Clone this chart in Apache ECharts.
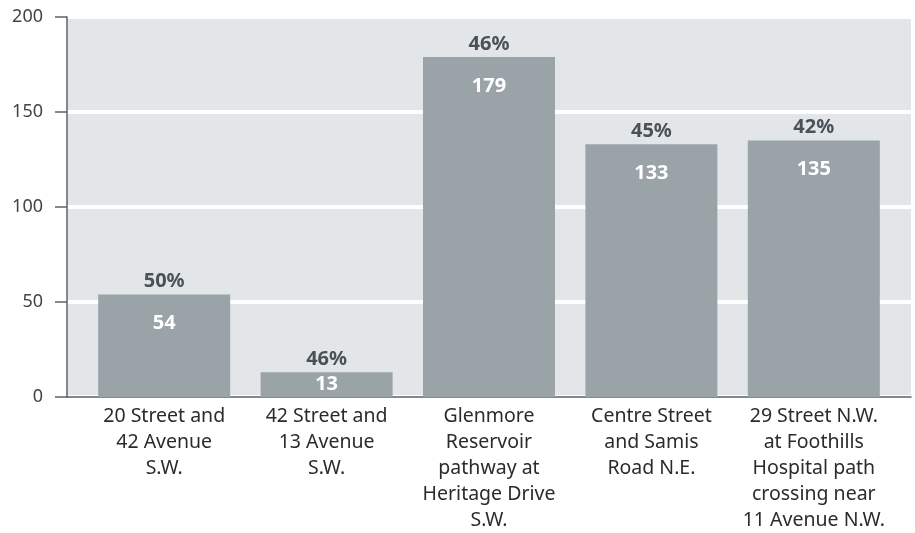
<!DOCTYPE html>
<html><head><meta charset="utf-8">
<script src="https://cdn.jsdelivr.net/npm/echarts@6/dist/echarts.min.js"></script>
<style>html,body{margin:0;padding:0;background:#fff}#c{width:915px;height:533px}</style>
</head><body><div id="c"></div>
<script>
const categories = [
  "20 Street and\n42 Avenue\nS.W.",
  "42 Street and\n13 Avenue\nS.W.",
  "Glenmore\nReservoir\npathway at\nHeritage Drive\nS.W.",
  "Centre Street\nand Samis\nRoad N.E.",
  "29 Street N.W.\nat Foothills\nHospital path\ncrossing near\n11 Avenue N.W."
];
const counts = [54, 13, 179, 133, 135];
const percents = [50, 46, 46, 45, 42];
const yTicks = [0, 50, 100, 150, 200];

const FONT = "Noto Sans";
const chart = echarts.init(document.getElementById('c'), null, {renderer: 'canvas'});
const valueData = counts.map(v => v < 30
  ? {value: v, label: {position: 'inside', distance: 0}}
  : v);
chart.setOption({
  animation: false,
  textStyle: {fontFamily: FONT},
  grid: [
    {left: 67, right: 4, top: 17, bottom: 136, show: true, backgroundColor: '#e3e6e8', borderWidth: 0,
     containLabel: false, outerBoundsMode: 'none'},
    {left: 83, right: 20, top: 17, bottom: 136, containLabel: false, outerBoundsMode: 'none'}
  ],
  xAxis: [
    {gridIndex: 0, type: 'value', min: 0, max: 1, axisLine: {show: true, lineStyle: {color: '#5d6368', width: 1.5}},
     axisTick: {show: false}, axisLabel: {show: false}, splitLine: {show: false}},
    {gridIndex: 1, type: 'category', data: categories, axisLine: {show: false}, axisTick: {show: false},
     axisLabel: {interval: 0, margin: 6, fontSize: 19.5, lineHeight: 26, color: '#2b2b2b', fontFamily: FONT, align: 'center'}}
  ],
  yAxis: [
    {gridIndex: 0, type: 'value', min: yTicks[0], max: yTicks[yTicks.length-1], interval: 50,
     axisLine: {show: true, lineStyle: {color: '#5d6368', width: 1.5}},
     axisTick: {show: true, length: 12, lineStyle: {color: '#5d6368', width: 1.5}},
     axisLabel: {margin: 24, fontSize: 18, color: '#444', fontFamily: FONT},
     splitLine: {show: true, lineStyle: {color: '#ffffff', width: 4}}},
    {gridIndex: 1, type: 'value', min: 0, max: 200, show: false, splitLine: {show: false}}
  ],
  series: [
    {type: 'bar', xAxisIndex: 1, yAxisIndex: 1, data: valueData, barWidth: 132,
     itemStyle: {color: '#99a3a8'},
     label: {show: true, position: 'insideTop', distance: 19, color: '#fff', fontWeight: 'bold', fontSize: 20, fontFamily: FONT}},
    {type: 'bar', xAxisIndex: 1, yAxisIndex: 1, data: counts, barWidth: 132, barGap: '-100%',
     itemStyle: {color: 'rgba(0,0,0,0)'}, silent: true,
     label: {show: true, position: 'top', distance: 3, color: '#4a5157', fontWeight: 'bold', fontSize: 20, fontFamily: FONT,
       formatter: p => percents[p.dataIndex] + '%'}}
  ]
});
</script></body></html>
